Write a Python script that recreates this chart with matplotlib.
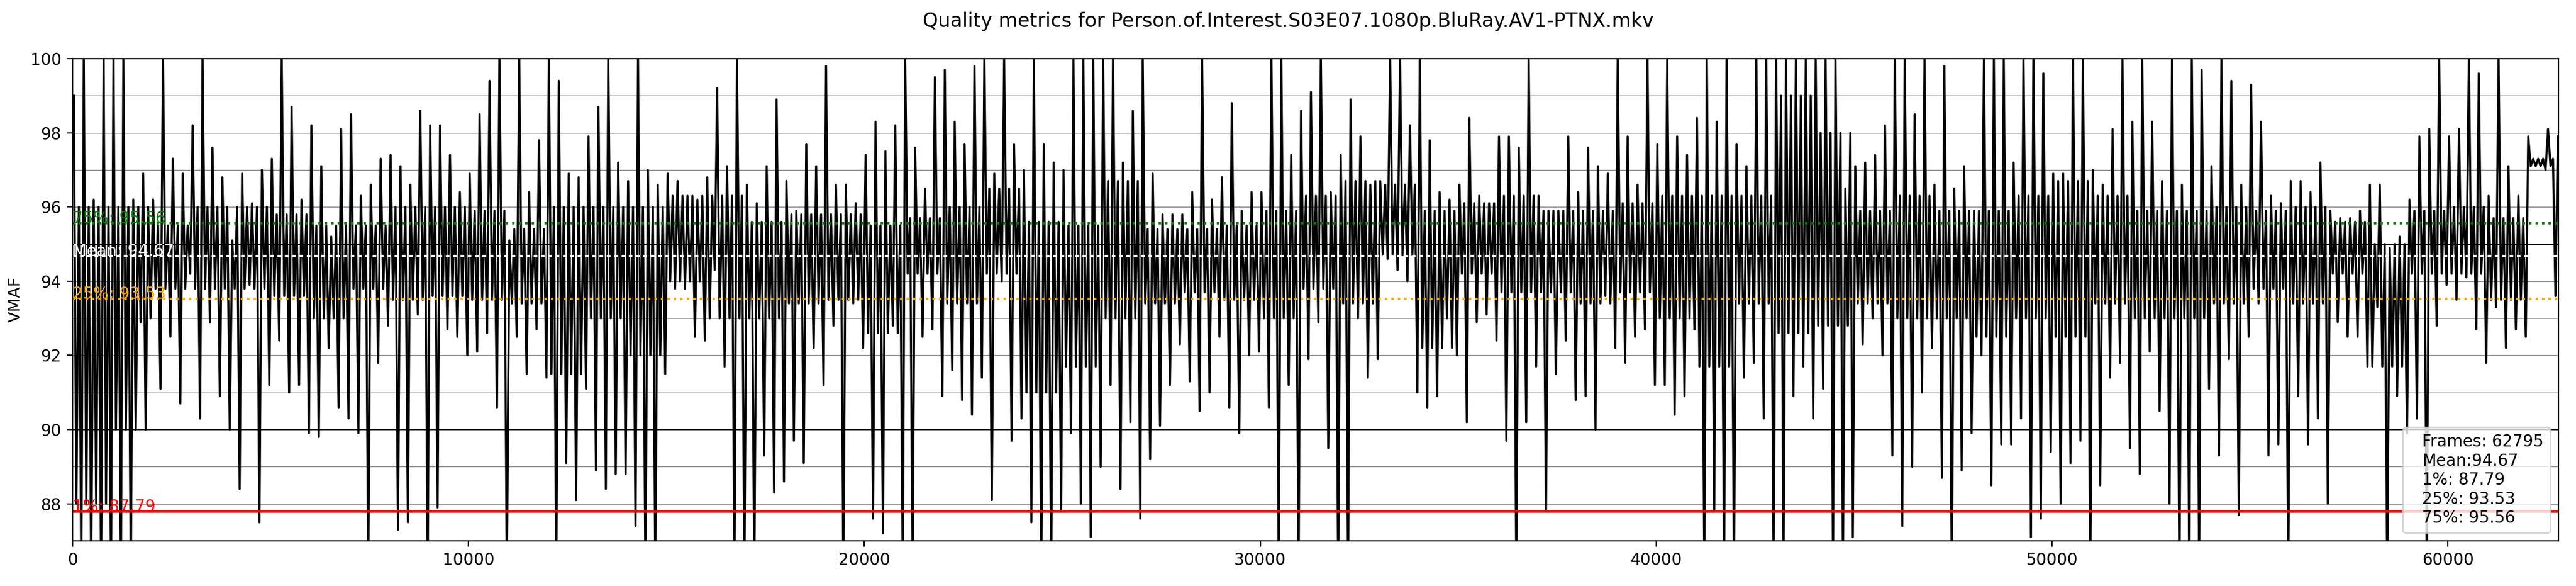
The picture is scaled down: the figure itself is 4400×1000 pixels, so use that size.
import numpy as np
import matplotlib
matplotlib.use('Agg')
import matplotlib.pyplot as plt
from matplotlib.ticker import MultipleLocator

title = 'Quality metrics for Person.of.Interest.S03E07.1080p.BluRay.AV1-PTNX.mkv'
n_frames = 62795
bin_size = 250
block_size = 1000

# summary values printed on the chart
mean = 94.67
p1 = 87.79
p25 = 93.53
p75 = 95.56

# VMAF per block of 250 frames: highest and lowest value in each block
vmaf_hi = [
    99.0, 100, 96.2, 100, 100, 100, 96.2, 96.9, 96.2, 100, 97.3, 96.9, 98.2, 100, 97.6, 96.8,
    95.1, 96.9, 96.1, 97.0, 97.3, 100, 98.7, 96.2, 98.2, 97.1, 95.2, 98.1, 98.5, 96.3, 96.6, 97.3,
    97.4, 97.1, 96.6, 98.6, 98.2, 98.2, 97.4, 96.4, 96.9, 98.5, 99.4, 100, 95.1, 100, 96.4, 97.8,
    100, 99.4, 96.9, 96.8, 97.9, 98.7, 100, 97.2, 96.7, 100, 97.0, 96.6, 96.9, 96.7, 96.3, 96.2,
    96.8, 99.2, 97.1, 100, 96.6, 96.1, 97.1, 98.9, 96.7, 95.9, 97.7, 97.1, 99.8, 96.6, 96.6, 96.1,
    97.4, 98.3, 97.5, 98.2, 100, 97.6, 96.5, 99.5, 99.7, 98.3, 97.7, 99.8, 100, 96.9, 100, 97.7,
    97.0, 100, 97.7, 97.2, 97.0, 100, 100, 100, 100, 100, 97.2, 98.6, 100, 96.9, 95.8, 95.8,
    95.8, 96.4, 100, 96.2, 96.8, 98.8, 95.9, 96.4, 96.4, 100, 100, 97.4, 98.6, 99.1, 100, 96.4,
    97.4, 98.9, 97.9, 96.6, 96.7, 100, 100, 98.2, 100, 97.8, 96.4, 96.2, 96.6, 98.4, 96.3, 96.1,
    97.9, 97.9, 97.6, 100, 96.3, 95.9, 95.9, 97.9, 96.4, 97.6, 97.1, 96.9, 100, 97.9, 96.6, 100,
    97.7, 100, 97.9, 97.4, 98.4, 100, 98.3, 100, 97.7, 97.1, 100, 100, 100, 100, 100, 100,
    100, 100, 100, 96.5, 97.1, 97.2, 97.4, 98.2, 100, 100, 98.5, 100, 96.6, 99.8, 96.5, 97.1,
    95.9, 100, 100, 100, 97.2, 100, 100, 99.6, 96.9, 96.9, 100, 100, 97.0, 96.6, 98.1, 100,
    98.3, 100, 98.3, 96.7, 100, 96.6, 100, 99.7, 97.1, 100, 99.4, 96.6, 99.3, 98.3, 96.3, 96.1,
    96.7, 96.7, 96.4, 97.2, 95.9, 95.7, 95.7, 95.9, 96.6, 96.6, 94.9, 95.2, 96.2, 97.9, 98.1, 100,
    97.9, 98.1, 100, 99.6, 96.3, 100, 97.1, 96.3, 97.9, 97.3, 98.1, 97.9,
]
vmaf_lo = [
    86, 86, 86, 86, 86, 86, 92.9, 93.0, 91.1, 92.5, 90.7, 94.2, 90.3, 92.9, 90.9, 90.0,
    88.4, 93.9, 87.5, 91.2, 92.4, 91.0, 91.2, 89.9, 89.8, 92.2, 90.6, 90.3, 89.9, 86, 91.8, 92.8,
    87.3, 87.5, 93.1, 86, 87.9, 92.7, 92.5, 92.0, 92.1, 92.6, 90.6, 86, 92.5, 91.5, 92.7, 91.4,
    86, 89.1, 88.1, 91.1, 88.9, 88.4, 88.8, 88.8, 87.4, 86, 86, 91.5, 93.8, 93.8, 92.5, 92.4,
    94.3, 91.7, 86, 86, 86, 89.3, 88.3, 88.6, 89.7, 89.1, 92.2, 91.2, 92.8, 86, 93.4, 92.2,
    87.6, 87.2, 92.8, 86, 86, 92.5, 92.7, 90.9, 91.6, 90.8, 90.4, 91.4, 88.1, 94.0, 89.7, 90.3,
    87.5, 86, 86, 87.8, 89.9, 88.0, 87.1, 89.0, 91.2, 88.4, 90.2, 87.6, 89.2, 90.1, 91.2, 92.3,
    91.3, 90.5, 91.0, 92.5, 90.6, 89.9, 92.0, 92.1, 90.6, 86, 91.2, 86, 91.9, 92.9, 89.5, 86,
    86, 93.0, 91.4, 91.9, 94.6, 94.3, 94.0, 91.0, 90.6, 90.9, 93.0, 92.0, 90.2, 92.9, 93.1, 92.4,
    89.7, 86, 90.2, 91.7, 87.8, 91.5, 92.4, 90.8, 90.9, 90.0, 93.6, 92.2, 91.8, 92.5, 92.7, 91.2,
    91.2, 90.4, 90.9, 92.7, 86, 87.8, 86, 86, 91.4, 91.8, 90.3, 86, 86, 90.9, 91.7, 90.3,
    91.1, 86, 86, 87.1, 92.3, 93.0, 92.0, 89.3, 87.4, 89.0, 91.0, 92.2, 88.7, 86, 88.9, 89.9,
    92.0, 88.5, 89.6, 89.6, 90.3, 87.1, 87.6, 89.4, 88.0, 89.1, 89.7, 86, 88.5, 91.4, 91.8, 89.5,
    88.8, 92.1, 90.5, 88.0, 86, 86, 86, 91.1, 89.3, 91.9, 87.7, 92.5, 93.4, 89.3, 89.6, 86,
    90.9, 89.6, 90.3, 88.0, 92.9, 92.5, 92.5, 91.7, 93.3, 86, 90.9, 89.9, 90.3, 86, 92.8, 93.9,
    93.5, 94.1, 92.7, 91.8, 93.3, 92.2, 92.7, 92.5, 97.1, 97.0, 93.6, 97.9,
]

# dense core of the trace per block of 1000 frames (where the line is solid black)
core_hi = [
    96.0, 96.0, 95.5, 96.0, 96.0, 95.8, 95.5, 95.5,
    96.0, 96.0, 95.9, 95.4, 96.0, 96.0, 96.0, 96.3,
    96.3, 95.6, 95.8, 95.8, 95.5, 95.7, 96.0, 96.5,
    95.6, 95.5, 96.7, 95.4, 95.4, 95.5, 95.9, 96.3,
    96.7, 96.6, 95.9, 96.1, 96.3, 95.9, 95.9, 96.1,
    96.3, 96.3, 96.3, 99.0, 98.0, 95.9, 96.3, 95.9,
    95.9, 96.3, 96.7, 96.3, 95.9, 95.9, 96.0, 95.9,
    96.0, 95.6, 95.0, 95.9, 96.0, 95.7, 97.3,
]
core_lo = [
    88.0, 90.0, 93.8, 93.8, 93.8, 93.6, 93.0, 93.8,
    93.5, 93.6, 93.5, 93.4, 91.5, 93.0, 92.0, 94.0,
    93.0, 93.0, 93.4, 93.5, 92.6, 94.2, 93.4, 94.2,
    91.0, 91.7, 93.0, 93.4, 93.7, 93.5, 93.0, 93.8,
    93.4, 94.7, 92.2, 94.2, 93.7, 93.7, 93.4, 93.7,
    93.0, 91.7, 93.4, 92.6, 92.8, 93.4, 93.0, 93.0,
    92.5, 93.0, 92.5, 93.4, 93.0, 93.0, 93.4, 93.8,
    93.4, 94.2, 91.7, 94.2, 94.2, 93.5, 97.1,
]

# each 250-frame block: its peak, the core low, the core high, then its dip
starts = np.arange(len(vmaf_hi)) * bin_size
block = starts // block_size
c_hi = np.array(core_hi)[block]
c_lo = np.array(core_lo)[block]
frames = np.column_stack([starts + bin_size * f for f in (0.125, 0.375, 0.625, 0.875)]).ravel()
frames = np.minimum(frames, n_frames - 1)
vmaf = np.column_stack([vmaf_hi, c_lo, c_hi, vmaf_lo]).ravel()

fig, ax = plt.subplots(figsize=(22, 5), dpi=200)
fig.subplots_adjust(left=0.0282, right=0.9932, top=0.9, bottom=0.077)
fig.suptitle(title)

ax.plot(frames, vmaf, color='black', linewidth=1.3)

ax.axhline(90, color='black', linewidth=0.8)
ax.axhline(95, color='black', linewidth=0.8)
ax.axhline(p1, color='red', linewidth=1.5)
ax.axhline(p25, color='orange', linestyle=':', linewidth=1.5)
ax.axhline(p75, color='green', linestyle=':', linewidth=1.5)
ax.axhline(mean, color='white', linestyle=(0, (1.5, 1.5)), linewidth=1.5)

ax.text(0, p1, '1%%: %.2f' % p1, color='red')
ax.text(0, p25, '25%%: %.2f' % p25, color='orange')
ax.text(0, p75, '75%%: %.2f' % p75, color='green')
ax.text(0, mean, 'Mean: %.2f' % mean, color='white')

stats = 'Frames: %d\nMean:%.2f\n1%%: %.2f\n25%%: %.2f\n75%%: %.2f' % (n_frames, mean, p1, p25, p75)
ax.plot([], [], ' ', label=stats)
ax.legend(loc='lower right', handlelength=0)

ax.set_xlim(0, n_frames)
ax.set_ylim(87, 100)
ax.set_yticks(range(88, 101, 2))
ax.yaxis.set_minor_locator(MultipleLocator(1))
ax.tick_params(axis='y', which='minor', length=0)
ax.grid(axis='y', which='both', color='gray', linewidth=0.5)
ax.set_axisbelow(True)
ax.set_ylabel('VMAF')

fig.savefig('out.png')
